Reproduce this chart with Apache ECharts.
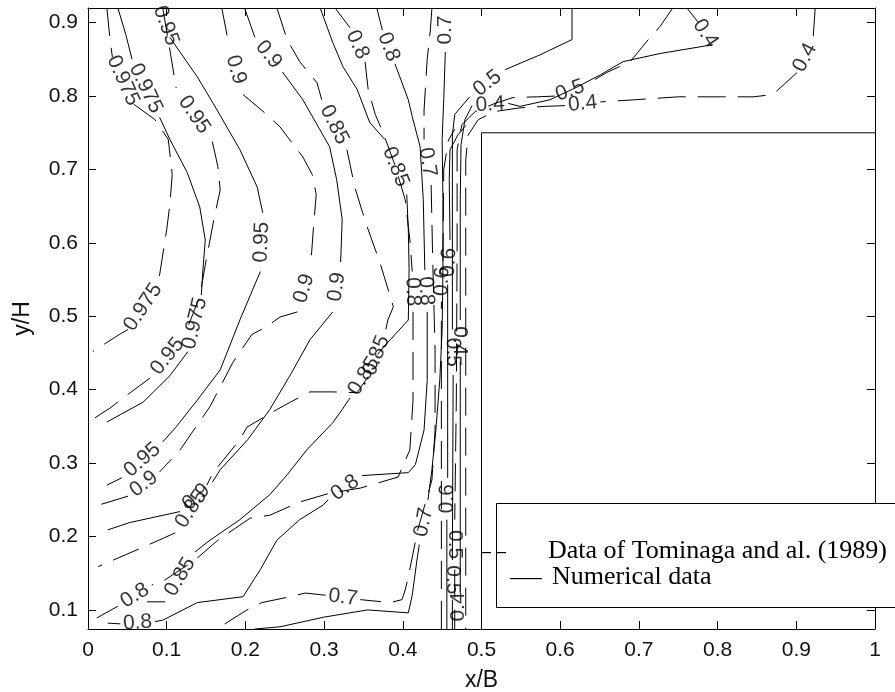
<!DOCTYPE html>
<html>
<head>
<meta charset="utf-8">
<script src="https://cdn.jsdelivr.net/npm/echarts@6/dist/echarts.min.js"></script>
<style>
  html, body { margin: 0; padding: 0; background: #fff; }
  #chart { width: 895px; height: 692px; }
</style>
</head>
<body>
<div id="chart"></div>
<script>
// Axis ranges and tick values
const xRange = [0, 1];
const yMin = 0.074, yMax = 0.92;
const yTicks = [0.1, 0.2, 0.3, 0.4, 0.5, 0.6, 0.7, 0.8, 0.9];

// Contour polylines in (x/B, y/H). A null marks the gap where the level label sits.
// Measured contours (Tominaga et al., 1989) - dashed
const tomi0975 = [[.024,.920],[.028,.877],[.031,.853],null,[.058,.789],[.085,.768],[.102,.741],[.107,.693],[.104,.652],[.100,.618],[.094,.577],[.089,.543],null,[.051,.482],[.041,.476],[.006,.452]];
const tomi095 = [[.095,.920],[.104,.863],[.112,.811],null,[.158,.738],[.165,.704],[.168,.672],[.161,.638],[.155,.604],[.149,.570],[.142,.527],[.123,.475],null,[.079,.416],[.050,.393],[.028,.375],[.005,.359]];
const tomi09 = [[.170,.920],[.179,.870],null,[.197,.802],[.227,.775],[.244,.758],[.273,.717],[.285,.693],[.290,.666],[.286,.614],[.283,.570],null,[.266,.506],[.244,.499],[.227,.486],[.208,.475],[.184,.437],[.155,.377],[.117,.318],[.091,.288],null,[.051,.255],[.011,.242]];
const tomi085 = [[.240,.920],[.253,.877],[.269,.847],[.291,.818],[.297,.795],null,[.329,.727],[.339,.676],[.349,.641],[.356,.618],[.371,.573],[.388,.513],[.381,.495],[.377,.475],null,[.356,.418],[.342,.396],[.311,.397],[.282,.397],[.257,.383],[.240,.373],[.202,.349],[.193,.332],[.159,.287],[.151,.270],null,[.111,.205],[.069,.185],[.013,.159]];
const tomi08 = [[.314,.920],[.333,.893],null,[.352,.847],[.356,.809],[.365,.775],[.375,.750],[.390,.706],[.403,.659],[.409,.604],[.412,.561],null,[.413,.506],[.413,.386],[.409,.318],[.394,.281],[.346,.266],[.307,.259],[.269,.247],[.231,.229],[.206,.225],[.165,.195],[.136,.168],[.098,.141],[.081,.134],null,[.038,.105],[.011,.089]];
const tomi07 = [[.437,.920],[.435,.890],[.431,.850],[.427,.781],[.427,.741],null,[.436,.679],[.438,.577],[.441,.454],[.441,.345],[.437,.277],[.428,.243],[.419,.209],[.412,.172],[.407,.145],[.403,.127],[.399,.114],[.384,.110],[.346,.114],null,[.302,.120],[.276,.123],[.257,.118],[.221,.110],[.202,.100],[.168,.077],[.161,.074]];
const tomi06 = [[.449,.074],[.449,.330],[.449,.520],null,[.451,.575],[.452,.700],[.458,.740],[.466,.755]];
const tomi05 = [[.743,.920],[.727,.895],[.712,.877],[.689,.847],[.659,.832],[.632,.815],null,[.593,.800],[.571,.799],[.540,.798],[.517,.790],[.492,.779],[.475,.761],[.469,.727],[.469,.591],[.468,.386],[.466,.223],null,[.466,.155],[.466,.074]];
const tomi04 = [[.924,.920],[.921,.873],null,[.901,.832],[.870,.802],[.845,.799],[.806,.799],[.750,.799],[.695,.795],[.651,.792],null,[.606,.787],[.581,.786],[.549,.784],[.517,.779],[.496,.768],[.483,.747],[.480,.713],[.480,.522],[.480,.074]];

// Numerical contours - solid
const num0975 = [[.038,.920],[.048,.884],[.056,.850],null,[.091,.771],[.104,.741],[.126,.696],[.142,.649],[.149,.604],[.146,.563],[.144,.529],null,[.127,.452],[.104,.419],[.070,.383],[.041,.366],[.024,.356]];
const num095 = [[.104,.880],[.139,.826],[.164,.781],[.193,.727],[.215,.676],[.222,.641],null,[.219,.561],[.193,.495],[.168,.427],[.139,.386],[.111,.348],[.095,.329],null,[.043,.280],[.024,.270]];
const num09 = [[.199,.920],[.212,.880],null,[.247,.833],[.273,.795],[.307,.731],[.316,.686],[.323,.632],[.321,.574],null,[.311,.506],[.282,.468],[.257,.420],[.231,.373],[.203,.332],[.168,.291],[.158,.274],null,[.117,.234],[.053,.219],[.025,.209]];
const num085 = [[.295,.920],[.311,.873],[.324,.840],[.342,.809],[.358,.764],[.377,.741],null,[.405,.666],[.407,.618],[.408,.563],[.407,.495],[.390,.475],[.377,.460],[.368,.448],null,[.333,.389],[.323,.373],[.311,.355],[.278,.318],[.253,.284],[.231,.257],[.193,.223],[.155,.195],[.136,.179],null,[.098,.111],[.075,.111]];
const num08 = [[.367,.920],[.374,.890],null,[.390,.844],[.407,.795],[.412,.772],[.422,.731],[.426,.659],[.428,.563],null,[.431,.506],[.431,.413],[.427,.345],[.416,.298],[.407,.287],[.348,.283],null,[.305,.250],[.299,.243],[.269,.223],[.240,.195],[.219,.155],[.197,.118],[.139,.110],[.095,.086],[.085,.084],null,[.041,.081],[.025,.082]];
const num07 = [[.212,.074],[.244,.077],[.299,.090],[.355,.100],[.407,.096],[.412,.120],[.418,.168],[.421,.189],null,[.432,.250],[.437,.291],[.442,.345],[.447,.413],[.450,.482],[.451,.563],[.451,.659],[.450,.741],[.452,.795],[.454,.860]];
const num06 = [[.456,.074],[.456,.223],null,[.457,.280],[.457,.386],[.457,.543],null,[.460,.604],[.459,.686],[.460,.727],[.470,.747],[.480,.760]];
const num05 = [[.615,.920],[.615,.877],[.574,.856],[.530,.836],null,[.485,.799],[.466,.775],[.463,.747],[.463,.591],[.463,.482],null,[.464,.420],[.463,.168],null,[.463,.114],[.463,.074]];
const num04 = [[.761,.920],[.775,.901],null,[.794,.870],[.727,.858],[.680,.847],[.651,.829],[.619,.811],[.587,.795],[.549,.786],[.534,.790],null,[.488,.787],[.479,.768],[.474,.734],[.473,.659],[.473,.495],null,[.473,.438],[.473,.134]];

// Labels that sit at the end of a line: [text, x/B, y/H, angle]
const endLabels = [["0.95", .099, .896, -70], ["0.7", .454, .890, 90], ["0.4", .471, .104, 90]];

// Building outline (step at x/B = 0.5, y/H = 0.75)
const buildingOutline = [[0.5, yMin], [0.5, 0.75], [1.0, 0.75]];

const measuredSet = [
  ['0.975', tomi0975], ['0.95', tomi095], ['0.9', tomi09], ['0.85', tomi085], ['0.8', tomi08],
  ['0.7', tomi07], ['0.6', tomi06], ['0.5', tomi05], ['0.4', tomi04]
];
const numericalSet = [
  ['0.975', num0975], ['0.95', num095], ['0.9', num09], ['0.85', num085], ['0.8', num08],
  ['0.7', num07], ['0.6', num06], ['0.5', num05], ['0.4', num04]
];

const FONT = 'Liberation Sans, Arial, sans-serif';
const SERIF = 'Liberation Serif, Times New Roman, serif';
const DASH = [28, 12];

function splitLine(pts) {
  const segs = [], gaps = [];
  let cur = [];
  pts.forEach((p, i) => {
    if (p === null) {
      if (cur.length) segs.push(cur);
      gaps.push([pts[i - 1], pts[i + 1]]);
      cur = [];
    } else cur.push(p);
  });
  if (cur.length) segs.push(cur);
  return { segs, gaps };
}

const chart = echarts.init(document.getElementById('chart'), null, { renderer: 'canvas' });

const lineSeries = [];
const gapList = [];
function addSet(set, dashed) {
  set.forEach(([level, pts]) => {
    const { segs, gaps } = splitLine(pts);
    segs.forEach(seg => lineSeries.push({
      type: 'line', data: seg, showSymbol: false, symbol: 'none', silent: true,
      animation: false, z: 2,
      lineStyle: { color: '#000', width: 1, type: dashed ? DASH : 'solid' }
    }));
    gaps.forEach(g => gapList.push({ level, g }));
  });
}
addSet(measuredSet, true);
addSet(numericalSet, false);

lineSeries.push({
  type: 'line', data: buildingOutline, showSymbol: false, symbol: 'none', silent: true,
  animation: false, z: 3, lineStyle: { color: '#000', width: 1 }
});

const axisCommon = {
  axisLine: { show: true, onZero: false, lineStyle: { color: '#000', width: 1 } },
  splitLine: { show: false }
};

const option = {
  animation: false,
  backgroundColor: '#fff',
  grid: { left: 88, right: 20, top: 8, bottom: 63, show: false, outerBoundsMode: 'none', containLabel: false },
  xAxis: [
    Object.assign({
      type: 'value', min: xRange[0], max: xRange[1], interval: 0.1, position: 'bottom',
      axisTick: { inside: true, length: 8, lineStyle: { color: '#000' } },
      axisLabel: { fontSize: 21, color: '#111', margin: 11, fontFamily: FONT },
      name: 'x/B', nameLocation: 'middle', nameGap: 40,
      nameTextStyle: { fontSize: 23, color: '#111', fontFamily: FONT }
    }, axisCommon),
    Object.assign({
      type: 'value', min: xRange[0], max: xRange[1], interval: 0.1, position: 'top',
      axisTick: { inside: true, length: 8, lineStyle: { color: '#000' } },
      axisLabel: { show: false }
    }, axisCommon)
  ],
  yAxis: [
    Object.assign({
      type: 'value', min: yMin, max: yMax, position: 'left',
      axisTick: { inside: true, length: 8, customValues: yTicks, lineStyle: { color: '#000' } },
      axisLabel: { fontSize: 21, color: '#111', margin: 10, fontFamily: FONT,
        customValues: yTicks, formatter: v => v.toFixed(1) },
      name: 'y/H', nameLocation: 'middle', nameGap: 54, nameRotate: 90,
      nameTextStyle: { fontSize: 23, color: '#111', fontFamily: FONT }
    }, axisCommon),
    Object.assign({
      type: 'value', min: yMin, max: yMax, position: 'right',
      axisTick: { inside: true, length: 8, customValues: yTicks, lineStyle: { color: '#000' } },
      axisLabel: { show: false }
    }, axisCommon)
  ],
  series: lineSeries,
  graphic: [
    { type: 'rect', z: 100, shape: { x: 496.5, y: 503.5, width: 420, height: 104 },
      style: { fill: '#fff', stroke: '#000', lineWidth: 1 } },
    // legend line samples: two short dashes, then a solid stroke
    { type: 'rect', z: 102, shape: { x: 481, y: 552, width: 10, height: 1.2 }, style: { fill: '#000' } },
    { type: 'rect', z: 102, shape: { x: 496, y: 552, width: 10, height: 1.2 }, style: { fill: '#000' } },
    { type: 'rect', z: 102, shape: { x: 510, y: 578, width: 32, height: 1.2 }, style: { fill: '#000' } },
    { type: 'text', z: 101, x: 548, y: 551,
      style: { text: 'Data of Tominaga and al. (1989)', font: '26px ' + SERIF, fill: '#000', textVerticalAlign: 'middle' } },
    { type: 'text', z: 101, x: 552, y: 577,
      style: { text: 'Numerical data', font: '26px ' + SERIF, fill: '#000', textVerticalAlign: 'middle' } }
  ]
};
chart.setOption(option);

// Contour level labels, placed in the line gaps and turned along the line
function angleOf(a, b) {
  const pa = chart.convertToPixel({ gridIndex: 0 }, a);
  const pb = chart.convertToPixel({ gridIndex: 0 }, b);
  let r = -Math.atan2(pb[1] - pa[1], pb[0] - pa[0]) * 180 / Math.PI;
  if (r > 90) r -= 180;
  if (r < -90) r += 180;
  return r;
}
const labelData = gapList.map(({ level, g }) => ({
  value: [(g[0][0] + g[1][0]) / 2, (g[0][1] + g[1][1]) / 2],
  label: { formatter: level, rotate: angleOf(g[0], g[1]) }
}));
endLabels.forEach(([text, x, y, ang]) => labelData.push({
  value: [x, y], label: { formatter: text, rotate: ang }
}));

chart.setOption({
  series: lineSeries.concat([{
    type: 'scatter', data: labelData, symbolSize: 1, silent: true, animation: false, z: 5,
    itemStyle: { color: 'rgba(0,0,0,0)' },
    label: { show: true, position: 'inside', fontSize: 21, color: '#000', fontFamily: FONT,
      align: 'center', verticalAlign: 'middle' }
  }])
});
</script>
</body>
</html>
